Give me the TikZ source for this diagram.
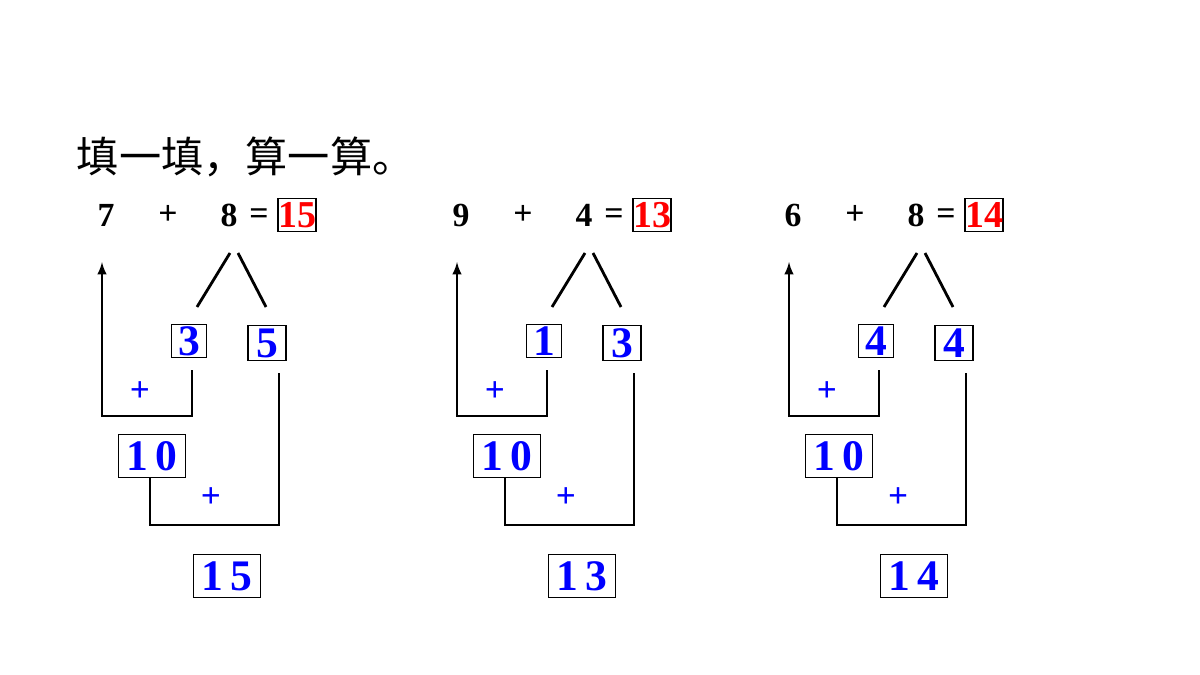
\documentclass[tikz,border=0pt]{standalone}
\usepackage{fontspec}
\setmainfont{Liberation Serif}
\newfontfamily\cjk{Noto Sans CJK SC}
\usetikzlibrary{calc}
\tikzset{
  num/.style={font=\fontsize{24}{24}\selectfont\bfseries},
  box/.style={draw=black,thick,inner sep=0pt,minimum height=#1},
  digit/.style={font=\fontsize{31}{31}\selectfont\bfseries,text=blue},
  line/.style={line width=2pt},
}
\begin{document}
\begin{tikzpicture}[x=0.025cm,y=-0.025cm]
    \useasboundingbox (0,0) rectangle (1200,675);
    \node[anchor=west,font=\cjk\fontsize{30}{30}\selectfont] (title) at (72,157) {填一填，算一算。};
    \foreach \g/\dx/\a/\b/\p/\q/\s/\sp in {1/0/7/8/3/5/15/1\,5, 2/355/9/4/1/3/13/1\,3, 3/687/6/8/4/4/14/1\,4}{
      \begin{scope}[xshift=\dx*0.025cm]
        \node[num] (a\g) at (106,215) {\a};
        \node[num] (plus\g) at (168,215) {+};
        \node[num] (b\g) at (229,215) {\b};
        \node[num] (eq\g) at (259,217) {=};
        \node[box=23pt,minimum width=27pt,font=\fontsize{27}{27}\selectfont\bfseries,text=red] (res\g) at (297,215) {\s};
        \coordinate (forkl\g) at (230,253);
        \coordinate (forkr\g) at (238,253);
        \coordinate (legl\g) at (197,307);
        \coordinate (legr\g) at (266,307);
        \node[box=24pt,minimum width=25pt,digit] (p\g) at (189,341) {\p};
        \node[box=25pt,minimum width=27pt,digit] (q\g) at (267,343) {\q};
        \node[digit,font=\fontsize{25}{25}\selectfont\bfseries] (pl1\g) at (140,392) {+};
        \node[box=31pt,minimum width=48pt,digit] (ten\g) at (152,456) {1\,0};
        \node[digit,font=\fontsize{25}{25}\selectfont\bfseries] (pl2\g) at (211,498) {+};
        \node[box=30pt,minimum width=48pt,digit] (sum\g) at (227,576) {\sp};
        \coordinate (top\g) at (102,262);
        \draw[line] (forkl\g) -- (legl\g);
        \draw[line] (forkr\g) -- (legr\g);
        \draw[line,-latex] ($(p\g.south)+(3,12)$) |- (102,416) -- (top\g);
        \draw[line] (ten\g.south -| 150,0) |- (279,525) -- ($(q\g.south)+(12,12)$);
      \end{scope}
    }
\end{tikzpicture}
\end{document}
